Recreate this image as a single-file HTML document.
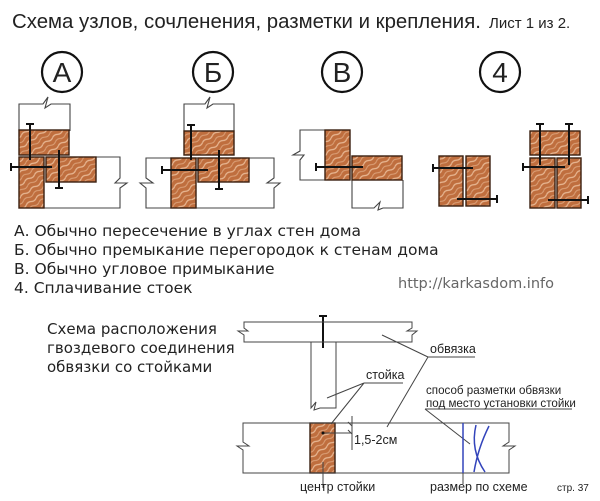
<!DOCTYPE html>
<html><head><meta charset="utf-8"><style>
body{margin:0;background:#fff;width:600px;height:501px;overflow:hidden}
svg{display:block}
text{font-family:"Liberation Sans","DejaVu Sans",sans-serif;fill:#222}
.d{font-family:"DejaVu Sans","Liberation Sans",sans-serif}
</style></head><body>
<svg width="600" height="501" viewBox="0 0 600 501" xmlns="http://www.w3.org/2000/svg">
<defs>
<pattern id="w" width="12" height="10" patternUnits="userSpaceOnUse" patternTransform="rotate(-35)">
<rect width="12" height="10" fill="#bf6e3e"/>
<path d="M0 3 q3 -2 6 0 t6 0" stroke="#e8b894" stroke-width="1.3" fill="none"/>
<path d="M0 8 q3 -2 6 0 t6 0" stroke="#dca27a" stroke-width="1" fill="none"/>
</pattern>
</defs>
<text x="12" y="28" font-size="20.4">Схема узлов, сочленения, разметки и крепления.</text>
<text x="489" y="28" font-size="15">Лист 1 из 2.</text>
<g fill="none" stroke="#111" stroke-width="2.2">
<circle cx="62" cy="72" r="20"/><circle cx="213" cy="72" r="20"/><circle cx="342" cy="72" r="20"/><circle cx="500" cy="72" r="20"/>
</g>
<g font-size="28" text-anchor="middle"><text x="62" y="82">А</text><text x="213" y="82">Б</text><text x="342" y="82">В</text><text x="500" y="82">4</text></g>
<g fill="none" stroke="#444" stroke-width="1.1">
<path d="M19 131 V104 H43 L48 97 L45 108 L51 104 H70 V131"/>
<path d="M96 157 H120 V178 L115 183 H127 L120 188 V208 H44"/>
<path d="M184 131 V104 H205 L210 97 L207 108 L213 104 H234 V131"/>
<path d="M146 158 H274 V178 L267 183 H280 L274 188 V208 H146 V188 L140 183 H153 L146 178 Z"/>
<path d="M325 130 H300 V151 L293 155 H304 L300 160 V180 H325"/>
<path d="M352 180 V208 H374 L380 202 L378 210 L383 208 H403 V180"/>
</g>
<g fill="url(#w)" stroke="#3a2010" stroke-width="1.4">
<rect x="19" y="130" width="50" height="25"/><rect x="19" y="157" width="25" height="51"/><rect x="46" y="157" width="50" height="25"/>
<rect x="184" y="131" width="50" height="24"/><rect x="171" y="158" width="25" height="50"/><rect x="198" y="158" width="51" height="24"/>
<rect x="325" y="130" width="25" height="50"/><rect x="352" y="156" width="50" height="24"/>
<rect x="439" y="156" width="24" height="50"/><rect x="466" y="156" width="24" height="50"/>
<rect x="530" y="131" width="50" height="24"/><rect x="530" y="158" width="25" height="50"/><rect x="557" y="158" width="24" height="50"/>
<rect x="310" y="423" width="25" height="50"/>
</g>
<g stroke="#111" stroke-width="2" fill="none">
<path d="M30 124V160M26 124h8M11 167H52M11 163v8M59 150V188M55 188h8"/>
<path d="M191 125V160M187 125h8M162 170H208M162 166v8M219 150V189M215 189h8"/>
<path d="M316 167H363M316 163v8"/>
<path d="M433 168H473M433 164v8M457 199H497M497 195v8"/>
<path d="M540 124V165M536 124h8M569 124V165M565 124h8M523 167H565M523 163v8M548 200H588M588 196v8"/>
<path d="M323 316V348M319 316h8"/>
</g>
<g font-size="15.5" class="d">
<text class="d" x="14" y="236">А. Обычно пересечение в углах стен дома</text>
<text class="d" x="14" y="255">Б. Обычно премыкание перегородок к стенам дома</text>
<text class="d" x="14" y="274">В. Обычно угловое примыкание</text>
<text class="d" x="14" y="293">4. Сплачивание стоек</text>
<text class="d" x="398" y="288" font-size="14.5" style="fill:#666">http://karkasdom.info</text>
<text class="d" x="47" y="334" font-size="15">Схема расположения</text>
<text class="d" x="47" y="353" font-size="15">гвоздевого соединения</text>
<text class="d" x="47" y="372" font-size="15">обвязки со стойками</text>
</g>
<g fill="none" stroke="#444" stroke-width="1">
<path d="M244 322H412V328L407 331H417L412 335V342H244V335L238 331H248L244 328Z"/>
<path d="M311 342V408L316 402L314 410L320 408H336V342"/>
<path d="M243 423H509V442L503 446H515L509 450V473H243V450L237 446H249L243 442Z"/>
<path d="M428 357H475M428 357L382 335M428 357L387 427"/>
<path d="M364 383H403M364 383L327 398M364 383L331 424"/>
<path d="M352 416V450M323 433H351M348 422l4 4M348 430l4 4"/>
<path d="M425 409H572M425 409L470 444"/>
<path d="M323 488V462M463 473V484"/>
</g>
<circle cx="323" cy="433" r="1.5" fill="#111"/>
<path d="M463 423V473" stroke="#3344bb" stroke-width="1.5"/>
<path d="M476 425Q470 450 485 472M489 426Q478 448 474 472" stroke="#3344bb" stroke-width="1.5" fill="none"/>
<g font-size="12.5">
<text x="430" y="353">обвязка</text>
<text x="366" y="379">стойка</text>
<text x="354" y="444">1,5-2см</text>
<text x="426" y="394" font-size="11.6">способ разметки обвязки</text>
<text x="426" y="407" font-size="11.6">под место установки стойки</text>
<text x="300" y="491">центр стойки</text>
<text x="430" y="491">размер по схеме</text>
<text x="557" y="491" font-size="10">стр. 37</text>
</g>
</svg>
</body></html>
